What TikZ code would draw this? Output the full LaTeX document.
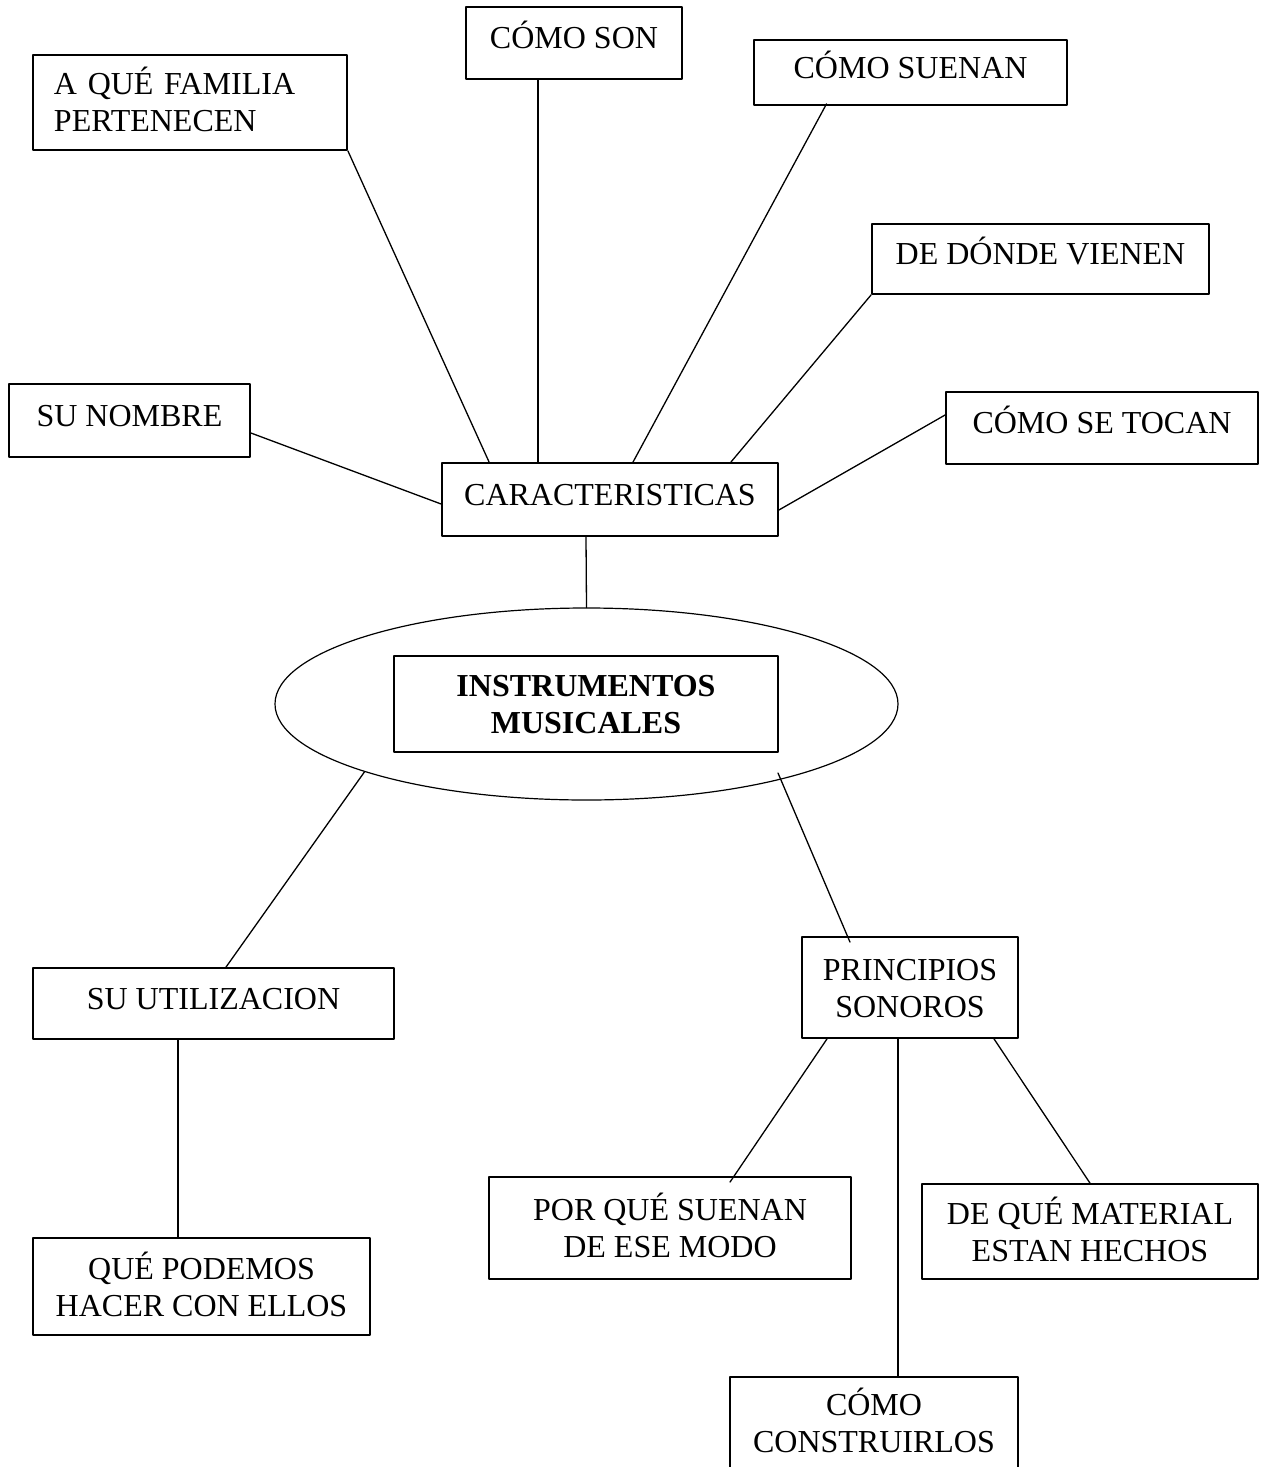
\documentclass[tikz,border=0pt]{standalone}
\usepackage{fontspec}
\setmainfont{Liberation Serif}
\usepackage{tikz}
\usetikzlibrary{calc}
\usetikzlibrary{shapes.geometric}
\tikzstyle{every node}=[font=\fontsize{16}{18.5}\selectfont]
\tikzstyle{caja}=[draw,line width=0.9pt,inner sep=0pt,align=center]
\tikzstyle{caja1}=[caja,text height=11pt,text depth=5.5pt]
\tikzstyle{caja2}=[caja,text height=29.5pt,text depth=0pt]
\tikzstyle{linea}=[line width=0.65pt]

\begin{document}
\begin{tikzpicture}[line cap=round,line join=round,x=0.5pt,y=-0.5pt]
            \path[use as bounding box] (0,0) rectangle (1260,1467);
            \clip (0,0) rectangle (1260,1467);
            % caracteristicas y sus ramas
            \node[caja1,minimum width=168pt,minimum height=36.5pt] (carac) at (610,499.5) {CARACTERISTICAS};
            \node[caja,minimum width=157pt,minimum height=47.5pt,align=left,text width=136pt,inner xsep=10.5pt,text height=11pt] (famil) at (190,102.5) {A QUÉ FAMILIA\\PERTENECEN};
            \node[caja1,minimum width=108pt,minimum height=36pt] (son) at (574,43) {CÓMO SON};
            \node[caja1,minimum width=156.5pt,minimum height=32.5pt] (suenan) at (910.5,72.5) {CÓMO SUENAN};
            \node[caja1,minimum width=168.5pt,minimum height=35pt] (vienen) at (1040.5,259) {DE DÓNDE VIENEN};
            \node[caja1,minimum width=156pt,minimum height=36pt] (tocan) at (1102,428) {CÓMO SE TOCAN};
            \node[caja1,minimum width=120.5pt,minimum height=36.5pt] (nombre) at (129.5,420.5) {SU NOMBRE};
            % centro
            \node[draw,ellipse,line width=0.6pt,minimum width=311.5pt,minimum height=96pt] (elipse) at (586.5,704) {};
            \node[caja2,minimum width=192pt,minimum height=48pt,font=\fontsize{16}{18.5}\selectfont\bfseries] (inst) at (586,704) {INSTRUMENTOS\\MUSICALES};
            % ramas de abajo
            \node[caja1,minimum width=180.5pt,minimum height=35.5pt] (util) at (213.5,1003.5) {SU UTILIZACION};
            \node[caja2,minimum width=168.5pt,minimum height=48.5pt] (hacer) at (201.5,1286.5) {QUÉ PODEMOS\\HACER CON ELLOS};
            \node[caja2,minimum width=108pt,minimum height=50.5pt] (prin) at (910,987.5) {PRINCIPIOS\\SONOROS};
            \node[caja2,minimum width=181pt,minimum height=51pt] (porque) at (670,1228) {POR QUÉ SUENAN\\DE ESE MODO};
            \node[caja2,minimum width=168pt,minimum height=47.5pt] (material) at (1090,1231.5) {DE QUÉ MATERIAL\\ESTAN HECHOS};
            \node[caja2,minimum width=144pt,minimum height=46pt] (construir) at (874,1423) {CÓMO\\CONSTRUIRLOS};
            % conectores
            \draw[linea] (famil.south east) -- ([xshift=24pt]carac.north west);
            \draw[linea] ([xshift=-18pt]son.south) -- ([xshift=-36pt]carac.north);
            \draw[linea] ([shift={(-42pt,1pt)}]suenan.south) -- ([xshift=11.5pt]carac.north);
            \draw[linea] (vienen.south west) -- ([xshift=-24pt]carac.north east);
            \draw[linea] ([yshift=6.5pt]tocan.west) -- ([yshift=-5.25pt]carac.east);
            \draw[linea] ([yshift=-6.25pt]nombre.east) -- ([yshift=-2.25pt]carac.west);
            \draw[linea] ([xshift=-12pt]carac.south) -- (elipse.north);
            \draw[linea] (elipse.197.7) -- ([xshift=6.25pt]util.north);
            \draw[linea] ([shift={(95.75pt,-34.5pt)}]elipse.center) -- ([shift={(-30pt,-3pt)}]prin.north);
            \draw[linea] ([xshift=-17.75pt]util.south) -- ([xshift=-11.75pt]hacer.north);
            \draw[linea] ([xshift=-41.5pt]prin.south) -- ([shift={(30pt,-3pt)}]porque.north);
            \draw[linea] ([xshift=-6pt]prin.south) -- ([xshift=12pt]construir.north);
            \draw[linea] ([xshift=42pt]prin.south) -- (material.north);
\end{tikzpicture}
\end{document}
